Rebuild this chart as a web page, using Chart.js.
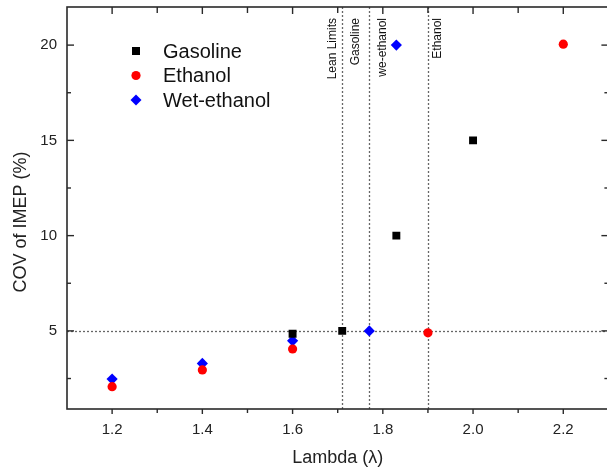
<!DOCTYPE html>
<html>
<head>
<meta charset="utf-8">
<script src="https://cdn.jsdelivr.net/npm/chart.js@4.4.0/dist/chart.umd.min.js"></script>
<style>
  html, body { margin: 0; padding: 0; overflow: hidden; background: #fff; }
  #wrap { width: 614px; height: 474px; }
</style>
</head>
<body>
<div id="wrap"><canvas id="id-chartCov" width="614" height="474"></canvas></div>
<script>
// data
var gasolineLambda = [1.6, 1.71, 1.83, 2.0];
var gasolineCov = [4.85, 5.0, 10.0, 15.0];
var ethanolLambda = [1.2, 1.4, 1.6, 1.9, 2.2];
var ethanolCov = [2.07, 2.95, 4.05, 4.9, 20.05];
var wetLambda = [1.2, 1.4, 1.6, 1.77, 1.83];
var wetCov = [2.47, 3.29, 4.48, 5.0, 20.0];
var xTicks = [1.2, 1.4, 1.6, 1.8, 2.0, 2.2];
var yTicks = [5, 10, 15, 20];
var limitLambda = [1.71, 1.77, 1.9];
var limitLabels = ["Gasoline", "we-ethanol", "Ethanol"];
var limitCov = 5;

var textColor = "#222";
var fontFamily = "'Liberation Sans', Arial, sans-serif";

function toPoints(xs, ys) {
  return xs.map(function(v, i) { return {x: v, y: ys[i]}; });
}

// ----------------------------- plugin start -----------------------------
var frameAndMarks = {
  id: "frameAndMarks",
  beforeDatasetsDraw: function(chart) {
    var ctx = chart.ctx, a = chart.chartArea;
    var sx = chart.scales.x, sy = chart.scales.y;
    ctx.save();
    // dotted limit lines
    ctx.strokeStyle = "#666";
    ctx.lineWidth = 1.3;
    ctx.setLineDash([2, 2]);
    limitLambda.forEach(function(v) {
      var px = Math.round(sx.getPixelForValue(v)) + 0.5;
      ctx.beginPath(); ctx.moveTo(px, a.top); ctx.lineTo(px, a.bottom); ctx.stroke();
    });
    var py = Math.round(sy.getPixelForValue(limitCov)) + 0.5;
    ctx.beginPath(); ctx.moveTo(a.left, py); ctx.lineTo(a.right, py); ctx.stroke();
    ctx.setLineDash([]);

    // frame
    ctx.strokeStyle = "#2a2a2a";
    ctx.lineWidth = 1.6;
    ctx.strokeRect(a.left, a.top, a.right - a.left, a.bottom - a.top);

    // tick marks
    ctx.lineWidth = 1.4;
    var xMinor = xTicks.map(function(v) { return v - 0.1; }).concat([xTicks[xTicks.length - 1] + 0.1]);
    function xMark(v, len) {
      var px = sx.getPixelForValue(v);
      if (px < a.left + 1 || px > a.right - 1) return;
      ctx.beginPath(); ctx.moveTo(px, a.bottom); ctx.lineTo(px, a.bottom + len); ctx.stroke();
      ctx.beginPath(); ctx.moveTo(px, a.top); ctx.lineTo(px, a.top + len + 2); ctx.stroke();
    }
    xTicks.forEach(function(v) { xMark(v, 5); });
    xMinor.forEach(function(v) { xMark(v, 4); });
    var yMinor = yTicks.map(function(v) { return v - 2.5; });
    function yMark(v, len) {
      var py = sy.getPixelForValue(v);
      ctx.beginPath(); ctx.moveTo(a.left, py); ctx.lineTo(a.left + len, py); ctx.stroke();
      ctx.beginPath(); ctx.moveTo(a.right, py); ctx.lineTo(a.right - len, py); ctx.stroke();
    }
    yTicks.forEach(function(v) { yMark(v, 7); });
    yMinor.forEach(function(v) { yMark(v, 4); });

    // rotated limit labels
    ctx.fillStyle = "#111";
    ctx.font = "12px " + fontFamily;
    ctx.textAlign = "right";
    ctx.textBaseline = "middle";
    function vText(txt, px) {
      ctx.save();
      ctx.translate(px, a.top + 11);
      ctx.rotate(-Math.PI / 2);
      ctx.fillText(txt, 0, 0);
      ctx.restore();
    }
    var p0 = sx.getPixelForValue(limitLambda[0]);
    vText("Lean Limits", p0 - 10);
    limitLabels.forEach(function(t, i) {
      vText(t, sx.getPixelForValue(limitLambda[i]) + (i === 2 ? 10 : 13));
    });
    ctx.restore();
  },
  afterDraw: function(chart) {
    var ctx = chart.ctx, a = chart.chartArea;
    ctx.save();
    // y axis title
    ctx.fillStyle = textColor;
    ctx.font = "18px " + fontFamily;
    ctx.textAlign = "center";
    ctx.textBaseline = "middle";
    ctx.translate(21, 222);
    ctx.rotate(-Math.PI / 2);
    ctx.fillText("COV of IMEP (%)", 0, 0);
    ctx.restore();

    // legend in the upper left of the plot
    ctx.save();
    ctx.font = "20px " + fontFamily;
    ctx.textAlign = "left";
    ctx.textBaseline = "middle";
    chart.data.datasets.forEach(function(ds, i) {
      var mx = a.left + 69, my = a.top + 44 + i * 24.5;
      ctx.fillStyle = ds.backgroundColor;
      ctx.beginPath();
      if (ds.pointStyle === "rect") ctx.rect(mx - 4, my - 4, 8, 8);
      else if (ds.pointStyle === "circle") ctx.arc(mx, my, 4.6, 0, Math.PI * 2);
      else { ctx.moveTo(mx - 5.5, my); ctx.lineTo(mx, my - 5.5); ctx.lineTo(mx + 5.5, my); ctx.lineTo(mx, my + 5.5); ctx.closePath(); }
      ctx.fill();
      ctx.fillStyle = "#111";
      ctx.fillText(ds.label, a.left + 96, my + 1);
    });
    ctx.restore();
  }
};
// ----------------------------- plugin end -----------------------------

// ----------------------------- chart start -----------------------------
new Chart("id-chartCov", {
  type: "scatter",
  data: {
    datasets: [{
      label: "Gasoline",
      data: toPoints(gasolineLambda, gasolineCov),
      pointStyle: "rect",
      pointRadius: 5.6,
      backgroundColor: "#000000",
      borderWidth: 0
    }, {
      label: "Ethanol",
      data: toPoints(ethanolLambda, ethanolCov),
      pointStyle: "circle",
      pointRadius: 4.6,
      backgroundColor: "#ff0000",
      borderWidth: 0
    }, {
      label: "Wet-ethanol",
      data: toPoints(wetLambda, wetCov),
      pointStyle: "rectRot",
      pointRadius: 5.6,
      backgroundColor: "#0000ff",
      borderWidth: 0
    }]
  },
  options: {
    responsive: false,
    animation: false,
    layout: {padding: {top: 7, right: 3, left: 0, bottom: 0}},
    plugins: {
      legend: {display: false},
      tooltip: {enabled: false}
    },
    scales: {
      x: {
        type: "linear",
        min: 1.1,
        max: 2.3,
        afterBuildTicks: function(s) { s.ticks = xTicks.map(function(v) { return {value: v}; }); },
        afterFit: function(s) { s.height = 65; s.paddingLeft = 0; s.paddingRight = 0; },
        grid: {display: false, drawTicks: false},
        border: {display: false},
        ticks: {
          padding: 12,
          color: textColor,
          font: {family: fontFamily, size: 15},
          callback: function(v) { return Number(v).toFixed(1); }
        },
        title: {
          display: true,
          text: "Lambda (\u03bb)",
          color: textColor,
          font: {family: fontFamily, size: 18},
          padding: {top: 0, bottom: 5}
        }
      },
      y: {
        type: "linear",
        min: 0.9,
        max: 22,
        afterBuildTicks: function(s) { s.ticks = yTicks.map(function(v) { return {value: v}; }); },
        afterFit: function(s) { s.width = 67; s.paddingTop = 0; s.paddingBottom = 0; },
        grid: {display: false, drawTicks: false},
        border: {display: false},
        ticks: {
          padding: 10,
          color: textColor,
          font: {family: fontFamily, size: 15}
        },
        title: {display: false}
      }
    }
  },
  plugins: [frameAndMarks]
});
// ----------------------------- chart end -----------------------------
</script>
</body>
</html>
